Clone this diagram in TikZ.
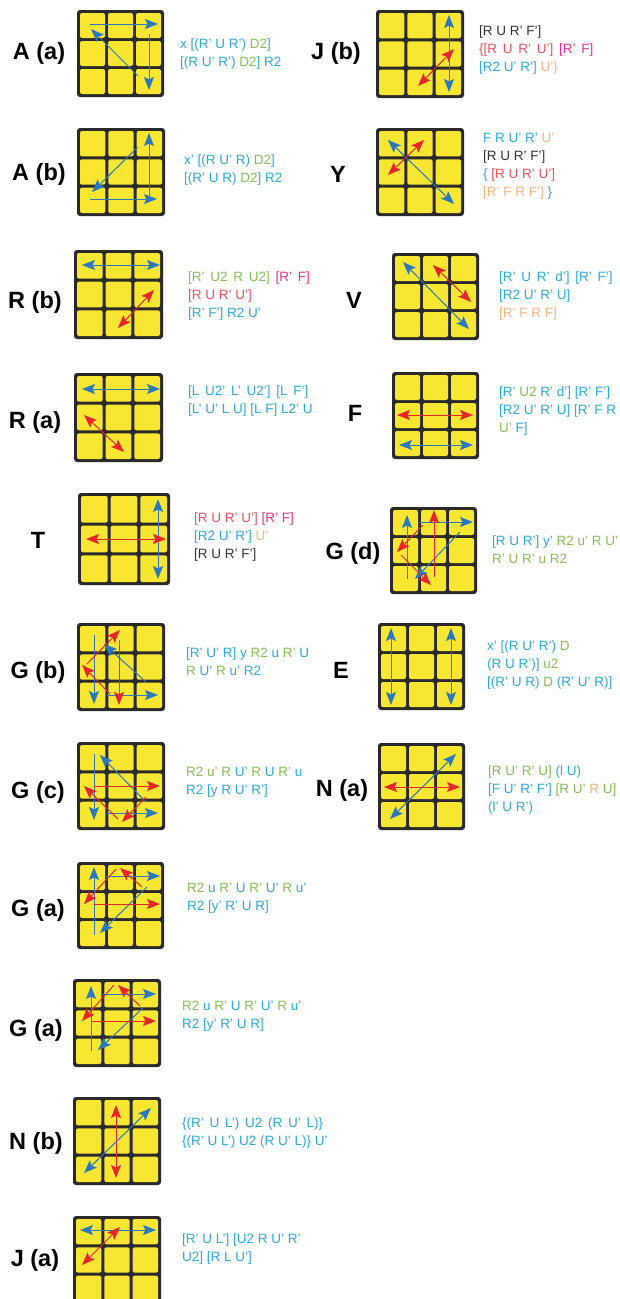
\documentclass[tikz,border=0pt]{standalone}
\usepackage{fontspec}
\setmainfont{Liberation Sans}
\newfontfamily\lblf{Liberation Sans}
\usetikzlibrary{arrows.meta}
\definecolor{tcy}{HTML}{2AAAE0}
\definecolor{tgr}{HTML}{86C052}
\definecolor{trd}{HTML}{F0505A}
\definecolor{tmg}{HTML}{E8308A}
\definecolor{tor}{HTML}{F9B27C}
\definecolor{tdk}{HTML}{333333}
\definecolor{arb}{HTML}{2A78BE}
\definecolor{arr}{HTML}{E6262B}
\definecolor{yel}{HTML}{F8E631}
\definecolor{gbg}{HTML}{2A2A2A}
\newcommand\Cy[1]{\textcolor{tcy}{#1}}
\newcommand\Gr[1]{\textcolor{tgr}{#1}}
\newcommand\Rd[1]{\textcolor{trd}{#1}}
\newcommand\Mg[1]{\textcolor{tmg}{#1}}
\newcommand\Or[1]{\textcolor{tor}{#1}}
\newcommand\Dk[1]{\textcolor{tdk}{#1}}
\newcommand\xs{\hspace{2pt}}
\newcommand\cubeface[1]{%
  \fill[gbg, rounded corners=3pt] (0,0) rectangle (#1,#1);
  \foreach \i in {0,1,2}{\foreach \j in {0,1,2}{
    \fill[yel, rounded corners=2pt] ({3+\i*(#1-3)/3},{3+\j*(#1-3)/3}) rectangle ++({(#1-3)/3-3},{(#1-3)/3-3});
  }}}
\tikzset{
  ab/.style={draw=arb, line width=1pt, -{Stealth[length=13pt,width=10pt,inset=2.5pt]}},
  abb/.style={draw=arb, line width=1pt, {Stealth[length=13pt,width=10pt,inset=2.5pt]}-{Stealth[length=13pt,width=10pt,inset=2.5pt]}},
  ar/.style={draw=arr, line width=1pt, -{Stealth[length=13pt,width=10pt,inset=2.5pt]}},
  arr2/.style={draw=arr, line width=1pt, {Stealth[length=13pt,width=10pt,inset=2.5pt]}-{Stealth[length=13pt,width=10pt,inset=2.5pt]}},
  lbl/.style={font=\lblf\bfseries\fontsize{23.5}{26}\selectfont, inner sep=0pt},
  mv/.style={font=\fontsize{13.5}{18}\selectfont, align=left, anchor=west, inner sep=0pt},
}
\begin{document}
\begin{tikzpicture}[x=1pt,y=-1pt]
\fill[white] (0,0) rectangle (619,1299);
\useasboundingbox (0,0) rectangle (619,1299);
\clip (0,0) rectangle (619,1299);

% ---------- A (a)
\node[lbl] (la) at (39,53) {A (a)};
\begin{scope}[shift={(77,10)}]
\cubeface{87}
\draw[ab] (13,14) -- (81,14);
\draw[ab] (72,24) -- (72,80);
\draw[ab] (61,66) -- (14,19);
\end{scope}
\node[mv] (ta) at (180,54) {\Cy{x [(R' U R')} \Gr{D2}\Cy{]}\\\Cy{[(R U' R')} \Gr{D2}\Cy{] R2}};

% ---------- J (b)
\node[lbl] (ljb) at (336,53) {J (b)};
\begin{scope}[shift={(376,10)}]
\cubeface{88}
\draw[abb] (73,5) -- (73,82);
\draw[arr2] (42,76) -- (78,39);
\end{scope}
\node[mv] (tjb) at (479,50.5) {\Dk{[R U R' F']}\\\Rd{\{[R\xs{} U\xs{} R'\xs{} U']}\xs{} \Mg{[R'\xs{} F]}\\\Cy{[R2 U' R']} \Or{U'\}}};

% ---------- A (b)
\node[lbl] (lab) at (39,174) {A (b)};
\begin{scope}[shift={(77,128)}]
\cubeface{88}
\draw[ab] (72,71) -- (72,5);
\draw[ab] (13,71) -- (80,71);
\draw[ab] (61,19) -- (15,64);
\end{scope}
\node[mv] (tab) at (184,170.5) {\Cy{x' [(R U' R)} \Gr{D2}\Cy{]}\\\Cy{[(R' U R)} \Gr{D2}\Cy{] R2}};

% ---------- Y
\node[lbl] (ly) at (338,174) {Y};
\begin{scope}[shift={(376,128)}]
\cubeface{88}
\draw[abb] (12,12) -- (78,76);
\draw[arr2] (12,47) -- (48,12);
\end{scope}
\node[mv] (ty) at (483,166) {\Cy{F R U' R'} \Or{U'}\\\Dk{[R U R' F']}\\\Cy{\{} \Rd{[R U R' U']}\\\Or{[R' F R F']} \Cy{\}}};

% ---------- R (b)
\node[lbl] (lrb) at (35,302) {R (b)};
\begin{scope}[shift={(74,250)}]
\cubeface{89}
\draw[abb] (8,15) -- (86,15);
\draw[arr2] (44,78) -- (80,40);
\end{scope}
\node[mv] (trb) at (188,296) {\Gr{[R'\xs{} U2\xs{} R\xs{} U2]}\xs{} \Mg{[R'\xs{} F]}\\\Rd{[R U R' U']}\\\Cy{[R' F'] R2 U'}};

% ---------- V
\node[lbl] (lv) at (354,300) {V};
\begin{scope}[shift={(392,253)}]
\cubeface{87}
\draw[abb] (11,9) -- (77,76);
\draw[arr2] (41,12) -- (79,49);
\end{scope}
\node[mv] (tv) at (499,296) {\Cy{[R'\xs{} U\xs{} R'\xs{} d']\xs{} [R'\xs{} F']}\\\Cy{[R2 U' R' U]}\\\Or{[R' F R F]}};

% ---------- R (a)
\node[lbl] (lra) at (35,422) {R (a)};
\begin{scope}[shift={(74,373)}]
\cubeface{89}
\draw[abb] (8,16) -- (86,16);
\draw[arr2] (10,42) -- (50,79);
\end{scope}
\node[mv] (tra) at (188,401.5) {\Cy{[L\xs{} U2'\xs{} L'\xs{} U2']\xs{} [L\xs{} F']}\\\Cy{[L' U' L U] [L F] L2' U}};

% ---------- F
\node[lbl] (lf) at (355,413) {F};
\begin{scope}[shift={(392,372)}]
\cubeface{87}
\draw[arr2] (5,43) -- (81,43);
\draw[abb] (7,73) -- (81,73);
\end{scope}
\node[mv] (tf) at (499,411) {\Cy{[R'} \Gr{U2} \Cy{R' d'] [R' F']}\\\Cy{[R2 U' R' U] [R' F R}\\\Gr{U'} \Cy{F]}};

% ---------- T
\node[lbl] (lt) at (38,540) {T};
\begin{scope}[shift={(78,493)}]
\cubeface{92}
\draw[abb] (80,6) -- (80,86);
\draw[arr2] (8,46) -- (88,46);
\end{scope}
\node[mv] (tt) at (194,537) {\Rd{[R U R' U']} \Mg{[R' F]}\\\Cy{[R2 U' R']} \Or{U'}\\\Dk{[R U R' F']}};

% ---------- G (d)
\node[lbl] (lgd) at (353,553) {G (d)};
\begin{scope}[shift={(390,507)}]
\cubeface{87}
\draw[ab] (17,72) -- (17,8);
\draw[ab] (29,15) -- (83,15);
\draw[ab] (70,25) -- (25,72);
\draw[ar] (44,70) -- (44,3);
\draw[ar] (33,18) -- (7,45);
\draw[ar] (11,48) -- (41,78);
\end{scope}
\node[mv] (tgd) at (492,549.5) {\Cy{[R U R'] y'} \Gr{R2 u' R U'}\\\Gr{R' U R' u R2}};

% ---------- G (b)
\node[lbl] (lgb) at (38,672) {G (b)};
\begin{scope}[shift={(77,623)}]
\cubeface{88}
\draw[ab] (17,12) -- (17,81);
\draw[ab] (30,72) -- (81,72);
\draw[ab] (69,59) -- (27,21);
\draw[ar] (42,17) -- (42,82);
\draw[ar] (10,41) -- (43,7);
\draw[ar] (33,71) -- (5,42);
\end{scope}
\node[mv] (tgb) at (186,662) {\Cy{[R' U' R] y} \Gr{R2} \Cy{u} \Gr{R'} \Cy{U}\\\Gr{R} \Cy{U'} \Gr{R} \Cy{u' R2}};

% ---------- E
\node[lbl] (le) at (341,670) {E};
\begin{scope}[shift={(378,623)}]
\cubeface{87}
\draw[abb] (13,5) -- (13,82);
\draw[abb] (73,5) -- (73,82);
\end{scope}
\node[mv] (te) at (487,665) {\Cy{x' [(R U' R')} \Gr{D}\\\Cy{(R U R')]} \Gr{u2}\\\Cy{[(R' U R)} \Gr{D} \Cy{(R' U' R)]}};

% ---------- G (c)
\node[lbl] (lgc) at (38,792) {G (c)};
\begin{scope}[shift={(77,742)}]
\cubeface{88}
\draw[ab] (17,12) -- (17,78);
\draw[ab] (30,71) -- (81,71);
\draw[ab] (69,60) -- (23,13);
\draw[ar] (17,44) -- (83,44);
\draw[ar] (41,77) -- (7,44);
\draw[ar] (69,55) -- (45,80);
\end{scope}
\node[mv] (tgc) at (186,782) {\Gr{R2 u' R} \Cy{U'} \Gr{R} \Cy{U} \Gr{R'} \Cy{u}\\\Cy{R2 [y R U' R']}};

% ---------- N (a)
\node[lbl] (lna) at (342,790) {N (a)};
\begin{scope}[shift={(378,743)}]
\cubeface{87}
\draw[arr2] (6,44) -- (82,44);
\draw[abb] (12,76) -- (78,11);
\end{scope}
\node[mv] (tna) at (488,790) {\Gr{[R U' R' U]} \Cy{(l U)}\\\Cy{[F U' R' F']} \Gr{[R U'} \Or{R} \Gr{U]}\\\Cy{(l' U R')}};

% ---------- G (a)
\node[lbl] (lga) at (38,910) {G (a)};
\begin{scope}[shift={(77,862)}]
\cubeface{87}
\draw[ab] (17,73) -- (17,5);
\draw[ab] (29,14) -- (83,14);
\draw[ab] (70,25) -- (23,71);
\draw[ar] (17,42) -- (83,42);
\draw[ar] (39,7) -- (7,42);
\draw[ar] (65,25) -- (43,6);
\end{scope}
\node[mv] (tga) at (187,898) {\Gr{R2} \Cy{u} \Gr{R'} \Cy{U} \Gr{R'} \Cy{U'} \Gr{R} \Cy{u'}\\\Cy{R2 [y' R' U R]}};

% ---------- G (a) second
\node[lbl] (lga2) at (36,1030) {G (a)};
\begin{scope}[shift={(73,979)}]
\cubeface{88}
\draw[ab] (18,72) -- (18,7);
\draw[ab] (29,15) -- (83,15);
\draw[ab] (70,29) -- (25,71);
\draw[ar] (19,42) -- (83,42);
\draw[ar] (41,6) -- (9,42);
\draw[ar] (67,27) -- (45,6);
\end{scope}
\node[mv] (tga2) at (182,1016) {\Gr{R2} \Cy{u} \Gr{R'} \Cy{U} \Gr{R'} \Cy{U'} \Gr{R} \Cy{u'}\\\Cy{R2 [y' R' U R]}};

% ---------- N (b)
\node[lbl] (lnb) at (36,1143) {N (b)};
\begin{scope}[shift={(73,1097)}]
\cubeface{88}
\draw[arr2] (43,8) -- (43,81);
\draw[abb] (11,76) -- (78,11);
\end{scope}
\node[mv] (tnb) at (182,1132.5) {\Cy{\{(R'\xs{} U\xs{} L')\xs{} U2\xs{} (R\xs{} U'\xs{} L)\}}\\\Cy{\{(R' U L') U2 (R U' L)\} U'}};

% ---------- J (a)
\node[lbl] (lja) at (35,1260) {J (a)};
\begin{scope}[shift={(73,1216)}]
\cubeface{88}
\draw[abb] (7,14) -- (83,14);
\draw[arr2] (9,49) -- (47,11);
\end{scope}
\node[mv] (tja) at (182,1249) {\Cy{[R' U L'] [U2 R U' R'}\\\Cy{U2] [R L U']}};
\end{tikzpicture}
\end{document}
